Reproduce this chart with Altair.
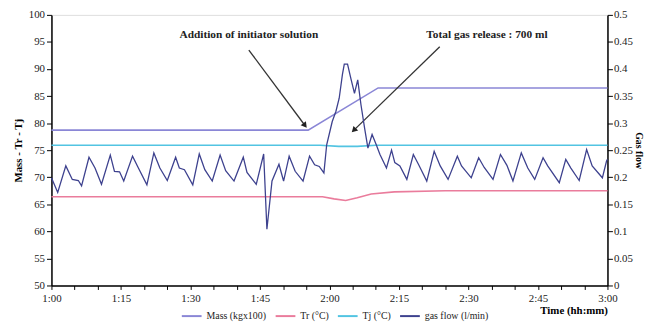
import altair as alt
import pandas as pd

# ---- data (time in minutes after 1:00) ----
mass_t = [0, 55.4, 70.5, 120]
mass_v = [78.7, 78.7, 86.5, 86.5]

tr_t = [0, 58.5, 61, 63.5, 66, 69, 74, 85, 120]
tr_v = [66.4, 66.4, 66.0, 65.7, 66.2, 66.9, 67.3, 67.5, 67.5]

tj_t = [0, 58, 62, 66, 70, 120]
tj_v = [75.9, 75.9, 75.7, 75.7, 75.9, 75.9]

gas_t = [0, 1.35, 3.1, 4.5, 5.8, 6.5, 8.1, 9.4, 10.8, 12.7, 13.6, 14.7, 15.6, 17.5, 18.6,
         20.6, 22.1, 23.4, 25.0, 26.8, 27.6, 28.7, 30.5, 31.9, 33.1, 34.7, 36.4, 37.6,
         39.4, 41.4, 42.2, 44.2, 45.8, 46.5, 47.6, 49.1, 50.1, 51.3, 52.6, 54.3, 55.7,
         56.8, 57.8, 58.8, 59.4, 60.1, 60.6, 61.4, 62.1, 62.8, 63.2, 63.9, 64.6, 65.4,
         66.1, 66.8, 67.6, 68.3, 69.2, 70.1, 70.9, 72.3, 73.4, 74.1, 75.2, 76.7, 78.1,
         79.2, 81.0, 82.6, 83.9, 85.6, 87.6, 88.5, 90.6, 92.2, 93.4, 95.3, 96.9, 98.3,
         99.6, 101.4, 102.8, 104.3, 106.1, 107.1, 109.6, 111.0, 112.1, 113.9, 115.5,
         116.7, 118.9, 119.8, 120]
gas_v = [0.199, 0.172, 0.221, 0.196, 0.194, 0.184, 0.237, 0.217, 0.187, 0.241, 0.211, 0.210,
         0.193, 0.239, 0.220, 0.186, 0.245, 0.217, 0.194, 0.237, 0.217, 0.214, 0.186, 0.243,
         0.214, 0.193, 0.241, 0.212, 0.193, 0.237, 0.209, 0.187, 0.243, 0.104, 0.193, 0.224,
         0.193, 0.239, 0.211, 0.193, 0.239, 0.223, 0.220, 0.208, 0.260, 0.285, 0.303, 0.322,
         0.346, 0.390, 0.409, 0.409, 0.383, 0.355, 0.380, 0.334, 0.290, 0.254, 0.279, 0.260,
         0.242, 0.217, 0.250, 0.227, 0.221, 0.196, 0.242, 0.224, 0.193, 0.248, 0.221, 0.196,
         0.239, 0.221, 0.199, 0.236, 0.218, 0.196, 0.242, 0.222, 0.193, 0.245, 0.217, 0.196,
         0.236, 0.221, 0.190, 0.233, 0.217, 0.194, 0.251, 0.221, 0.199, 0.230, 0.233]

series_names = ["Mass (kgx100)", "Tr (°C)", "Tj (°C)", "gas flow (l/min)"]
series_colors = ["#8a86d6", "#ea7c9c", "#52c4e2", "#3d418e"]

ann_text = ["Addition of initiator solution", "Total gas release : 700 ml"]
ann_tx = [42.6, 94.0]
ann_ty = [96.2, 96.2]
arrow_t0 = [42.6, 83.8]
arrow_v0 = [93.5, 94.1]
arrow_t1 = [54.6, 65.4]
arrow_v1 = [79.7, 78.8]
arrow_angle = [143, 225]

x_ticks = list(range(0, 121, 5))
left_ticks = list(range(50, 101, 5))
right_ticks = [round(0.05 * i, 2) for i in range(11)]

# ---- tables ----
rows = []
for t, v in zip(mass_t, mass_v):
    rows.append({"t": t, "v": v, "s": series_names[0]})
for t, v in zip(tr_t, tr_v):
    rows.append({"t": t, "v": v, "s": series_names[1]})
for t, v in zip(tj_t, tj_v):
    rows.append({"t": t, "v": v, "s": series_names[2]})
left_df = pd.DataFrame(rows)
gas_df = pd.DataFrame({"t": gas_t, "g": gas_v, "s": series_names[3]})
ann_df = pd.DataFrame({"t": ann_tx, "v": ann_ty, "text": ann_text})
arr_df = pd.DataFrame({"t0": arrow_t0, "v0": arrow_v0, "t1": arrow_t1, "v1": arrow_v1,
                       "ang": arrow_angle})

FONT = "Liberation Serif"

color = alt.Color("s:N", scale=alt.Scale(domain=series_names, range=series_colors),
                  legend=alt.Legend(title=None, orient="none", direction="horizontal",
                                    legendX=131, legendY=294, symbolType="stroke",
                                    symbolStrokeWidth=2, symbolSize=400, labelFont=FONT,
                                    labelFontSize=10, columnPadding=5, labelOffset=4,
                                    labelColor="#222"))

xscale = alt.Scale(domain=[0, 120], nice=False)
x_axis = alt.Axis(values=x_ticks, grid=False, title="Time (hh:mm)", labelOverlap=False,
                  labelFlush=False,
                  labelExpr="datum.value % 15 == 0 ? (floor(datum.value/60)+1) + ':' + (datum.value%60 < 10 ? '0' : '') + (datum.value%60) : ''",
                  titleAnchor="end", titleAlign="right", titleX=563, titleY=19,
                  titleBaseline="top",
                  labelFont=FONT, labelFontSize=11, titleFont=FONT, titleFontSize=11,
                  titleFontWeight="bold", tickColor="black", domainColor="black",
                  domainWidth=1.5, tickSize=4, labelPadding=3, labelColor="#222")
yscale = alt.Scale(domain=[50, 100], nice=False)
y_axis = alt.Axis(values=left_ticks, grid=False, title="Mass - Tr - Tj",
                  labelOverlap=False, labelFlush=False,
                  labelFont=FONT, labelFontSize=11, titleFont=FONT,
                  titleFontSize=11, titleFontWeight="bold", tickColor="black",
                  domainColor="black", domainWidth=1.5, tickSize=5,
                  labelColor="#222", titlePadding=5)

lines = alt.Chart(left_df).mark_line(strokeWidth=1.6).encode(
    x=alt.X("t:Q", scale=xscale, axis=x_axis),
    y=alt.Y("v:Q", scale=yscale, axis=y_axis),
    color=color,
    order="t:Q",
)

texts = alt.Chart(ann_df).mark_text(font=FONT, fontSize=11.5, fontWeight="bold",
                                    color="#222").encode(
    x=alt.X("t:Q", scale=xscale, axis=x_axis),
    y=alt.Y("v:Q", scale=yscale, axis=y_axis), text="text:N")

arrows = alt.Chart(arr_df).mark_rule(color="#333", strokeWidth=1.3).encode(
    x=alt.X("t0:Q", scale=xscale, axis=x_axis),
    y=alt.Y("v0:Q", scale=yscale, axis=y_axis),
    x2="t1:Q", y2="v1:Q")

heads = alt.Chart(arr_df).mark_point(shape="triangle", filled=True, color="#222",
                                     size=45, opacity=1).encode(
    x=alt.X("t1:Q", scale=xscale, axis=x_axis),
    y=alt.Y("v1:Q", scale=yscale, axis=y_axis),
    angle=alt.Angle("ang:Q", scale=None))

left = alt.layer(lines, arrows, heads, texts)

gas = alt.Chart(gas_df).mark_line(strokeWidth=1.3).encode(
    x=alt.X("t:Q", scale=xscale, axis=x_axis),
    y=alt.Y("g:Q", scale=alt.Scale(domain=[0, 0.5], nice=False),
            axis=alt.Axis(orient="right", values=right_ticks, grid=False, title="Gas flow",
                          labelOverlap=False, labelFlush=False,
                          labelFont=FONT, labelFontSize=11, titleFont=FONT,
                          titleFontSize=10, titleFontWeight="bold", tickColor="black",
                          domainColor="black", domainWidth=1.5, tickSize=5,
                          labelPadding=1, labelColor="#222", titlePadding=1,
                          format="~g")),
    color=color,
    order="t:Q",
)

chart = alt.layer(left, gas).resolve_scale(y="independent").properties(
    width=563, height=274,
    autosize=alt.AutoSizeParams(type="none"),
    padding={"left": 44, "top": 5, "right": 38, "bottom": 35},
).configure_view(stroke="black", strokeWidth=1.5).configure(background="white")

chart.save("out.html", embed_options={"renderer": "svg", "actions": False})
